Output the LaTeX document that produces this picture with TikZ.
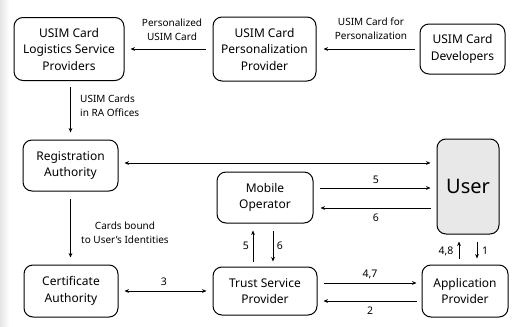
\documentclass[tikz,border=0pt]{standalone}
\usepackage{fontspec}
\setmainfont{Noto Sans}
\usetikzlibrary{arrows.meta}
\begin{document}
\begin{tikzpicture}[x=1pt,y=-1pt,
  box/.style={draw, rounded corners=9pt, line width=1pt, align=center,
    font=\fontsize{12}{16.5}\selectfont, inner sep=0pt},
  arr/.style={-{Stealth[length=4.5pt,width=3.8pt]}, line width=0.8pt},
  darr/.style={{Stealth[length=4.5pt,width=3.8pt]}-{Stealth[length=4.5pt,width=3.8pt]}, line width=0.8pt},
  lbl/.style={font=\fontsize{10}{14}\selectfont, align=center, inner sep=0pt},
  num/.style={font=\fontsize{10.5}{12}\selectfont, inner sep=0pt}]
\useasboundingbox (0,0) rectangle (512,327);
\shade[left color=black!10, right color=white] (0,0) rectangle (9,327);

\node[box, minimum width=110pt, minimum height=63pt] (logi) at (69,49) {USIM Card\\Logistics Service\\Providers};
\node[box, minimum width=103pt, minimum height=64pt] (pers) at (264.5,49) {USIM Card\\Personalization\\Provider};
\node[box, minimum width=85pt, minimum height=50pt] (dev) at (462.5,49) {USIM Card\\Developers};
\node[box, minimum width=95pt, minimum height=51pt] (ra) at (70.5,165.5) {Registration\\Authority};
\node[box, minimum width=96pt, minimum height=51pt] (mo) at (265,197.5) {Mobile\\Operator};
\node[box, fill=black!9, minimum width=62pt, minimum height=95pt, font=\fontsize{20}{24}\selectfont] (user) at (468,186.5) {User};
\node[box, minimum width=94pt, minimum height=52pt] (ca) at (71,291) {Certificate\\Authority};
\node[box, minimum width=104pt, minimum height=48pt] (tsp) at (265,291) {Trust Service\\Provider};
\node[box, minimum width=86pt, minimum height=52pt] (ap) at (465,291) {Application\\Provider};

% top row
\draw[arr] ([xshift=-7pt]pers.west) -- ([xshift=6pt]logi.east);
\node[lbl] (l1) at (172,30) {Personalized\\USIM Card};
\draw[arr] ([xshift=-5pt]dev.west) -- ([xshift=7pt]pers.east);
\node[lbl] (l2) at (371,29) {USIM Card for\\Personalization};

% logistics -> RA
\draw[arr] ([yshift=-6pt]logi.south -| ra.north) -- ([yshift=7pt]ra.north);
\node[lbl, align=left, anchor=west] (l3) at (80,106) {USIM Cards\\in RA Offices};

% RA <-> User
\draw[darr] ([shift={(6pt,2.5pt)}]ra.east) -- ([shift={(-6pt,2.5pt)}]ra.east -| user.west);

% MO <-> User
\draw[arr] ([shift={(6pt,9.5pt)}]mo.east) -- ([shift={(-6pt,9.5pt)}]mo.east -| user.west);
\node[num] (n5a) at (376,180) {5};
\draw[arr] ([shift={(-6pt,-10.5pt)}]mo.east -| user.west) -- ([shift={(7pt,-10.5pt)}]mo.east);
\node[num] (n6a) at (376,218) {6};

% RA -> CA
\draw[arr] ([yshift=-7pt]ra.south) -- ([yshift=7pt]ra.south |- ca.north);
\node[lbl] (l4) at (125,233) {Cards bound\\to User's Identities};

% CA <-> TSP
\draw[darr] ([xshift=6pt]ca.east) -- ([xshift=-6pt]tsp.west);
\node[num] (n3) at (164,282) {3};

% TSP <-> MO
\draw[arr] ([shift={(-12pt,5pt)}]tsp.north) -- ([shift={(-12pt,-7pt)}]tsp.north |- mo.south);
\node[num] (n5b) at (246,246) {5};
\draw[arr] ([shift={(8pt,-7pt)}]tsp.north |- mo.south) -- ([shift={(8pt,5pt)}]tsp.north);
\node[num] (n6b) at (280,246) {6};

% TSP <-> AP
\draw[arr] ([shift={(6pt,8pt)}]tsp.east) -- ([shift={(-5pt,8pt)}]tsp.east -| ap.west);
\node[num] (n47) at (370,274) {4,7};
\draw[arr] ([shift={(-5pt,-10pt)}]tsp.east -| ap.west) -- ([shift={(6pt,-10pt)}]tsp.east);
\node[num] (n2) at (370,311) {2};

% AP <-> User
\draw[arr] ([shift={(-6pt,6pt)}]ap.north) -- ([shift={(-6pt,-7pt)}]ap.north |- user.south);
\node[num] (n48) at (446,251) {4,8};
\draw[arr] ([shift={(12pt,-7pt)}]ap.north |- user.south) -- ([shift={(12pt,6pt)}]ap.north);
\node[num] (n1) at (485,251) {1};
\end{tikzpicture}
\end{document}
